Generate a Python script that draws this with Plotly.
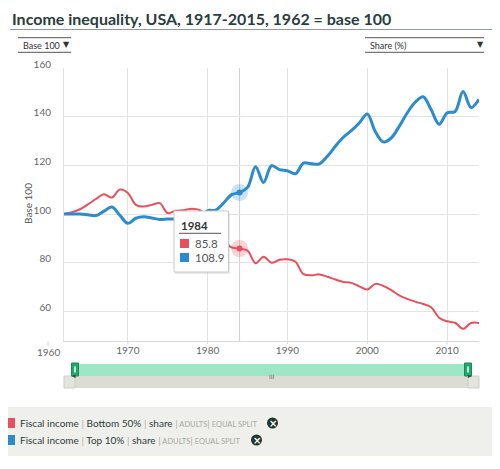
import plotly.graph_objects as go

# ---------------- data ----------------
years = [1962, 1963, 1964, 1965, 1966, 1967, 1968, 1969, 1970, 1971,
         1972, 1973, 1974, 1975, 1976, 1977, 1978, 1979, 1980, 1981,
         1982, 1983, 1984, 1985, 1986, 1987, 1988, 1989, 1990, 1991,
         1992, 1993, 1994, 1995, 1996, 1997, 1998, 1999, 2000, 2001,
         2002, 2003, 2004, 2005, 2006, 2007, 2008, 2009, 2010, 2011,
         2012, 2013, 2014]

bottom50 = [100.0, 100.8, 102.0, 104.0, 106.2, 108.2, 106.8, 110.1, 108.7, 103.8,
            103.1, 103.8, 104.5, 100.4, 101.4, 101.6, 102.2, 101.6, 98.3, 93.0,
            89.0, 86.3, 85.8, 85.0, 79.8, 82.5, 80.0, 81.2, 81.4, 80.4,
            75.3, 74.8, 75.2, 74.2, 73.1, 72.1, 71.7, 70.3, 69.0, 71.3,
            70.5, 68.7, 66.6, 65.1, 64.0, 63.0, 61.7, 57.4, 55.9, 55.3,
            52.8, 55.2, 55.2]

top10 = [100.0, 100.0, 100.0, 99.7, 99.4, 101.2, 102.9, 99.5, 96.2, 98.3,
         98.9, 98.4, 97.8, 98.0, 98.0, 97.6, 97.4, 98.2, 101.4, 101.6,
         104.6, 108.0, 108.9, 111.0, 119.5, 113.0, 119.9, 118.3, 117.8, 116.6,
         121.0, 120.7, 120.7, 123.8, 127.9, 131.6, 134.3, 137.5, 141.2, 134.0,
         129.7, 131.3, 136.1, 141.6, 146.0, 148.3, 143.0, 137.0, 141.6, 142.2,
         150.4, 143.8, 147.2]

x_ticks = [1970, 1980, 1990, 2000, 2010]
y_ticks = [60, 80, 100, 120, 140, 160]
hover_year = 1984

series_names = ["Bottom 50%", "Top 10%"]
title_text = "Income inequality, USA, 1917-2015, 1962 = base 100"

RED = "#e8505d"
BLUE = "#2b8ccd"
DARK = "#2a3d3d"
FONT = "Lato"

# ---------------- geometry helpers (window pixel -> paper) ----------------
# the page body has an 8px margin, so the figure sits at (8, 8) in the window
OFF = 8
WIN_W, WIN_H = 500, 469
W_FIG, H_FIG = WIN_W - OFF, WIN_H - 2 * OFF
L, R, T, B = 64, 479, 68, 341        # plot area in window pixels
PW, PH = R - L, B - T


def px(x):
    return (x - L) / PW


def py(y):
    return (B - y) / PH


XMIN, XMAX = 1962, 2014
YMIN, YMAX = 47.8, 160.1

fig = go.Figure()

fig.add_trace(go.Scatter(x=years, y=bottom50, mode="lines", name=series_names[0],
                         line=dict(color=RED, width=2, shape="spline", smoothing=1.0),
                         hoverinfo="skip"))
fig.add_trace(go.Scatter(x=years, y=top10, mode="lines", name=series_names[1],
                         line=dict(color=BLUE, width=3, shape="spline", smoothing=1.0),
                         hoverinfo="skip"))

hi = years.index(hover_year)
for col, ser in ((RED, bottom50), (BLUE, top10)):
    fig.add_trace(go.Scatter(x=[hover_year], y=[ser[hi]], mode="markers",
                             marker=dict(size=17, color=col, opacity=0.25, line=dict(width=0)),
                             hoverinfo="skip", showlegend=False))
    fig.add_trace(go.Scatter(x=[hover_year], y=[ser[hi]], mode="markers",
                             marker=dict(size=6, color=col, line=dict(width=0)),
                             hoverinfo="skip", showlegend=False))

shapes = []
annotations = []

# crosshair
shapes.append(dict(type="line", xref="x", yref="paper", x0=hover_year, x1=hover_year, y0=0, y1=1,
                   line=dict(color="#d0d0d0", width=1), layer="below"))

# x tick marks below the axis
for tv in x_ticks:
    shapes.append(dict(type="line", xref="x", yref="paper", x0=tv, x1=tv, y0=0, y1=py(B + 3),
                       line=dict(color="#d8d8d8", width=1)))
# 1960 tick outside the plotted range
x1960 = (1960 - XMIN) / (XMAX - XMIN)
shapes.append(dict(type="line", xref="paper", yref="paper", x0=x1960, x1=x1960,
                   y0=py(B), y1=py(B + 5), line=dict(color="#d8d8d8", width=1)))
annotations.append(dict(xref="paper", yref="paper", x=x1960, y=py(352), text="1960",
                        showarrow=False, font=dict(family=FONT, size=10, color="#666"),
                        xanchor="center", yanchor="middle"))

# title and its underline
annotations.append(dict(xref="paper", yref="paper", x=px(10), y=py(19), text="<b>" + title_text + "</b>",
                        showarrow=False, xanchor="left", yanchor="middle",
                        font=dict(family=FONT, size=16, color=DARK)))
shapes.append(dict(type="line", xref="paper", yref="paper", x0=px(10), x1=px(500), y0=py(29.5), y1=py(29.5),
                   line=dict(color="#8e9c9c", width=1.2)))


# dropdowns
def dropdown(x0, x1, label, arrow_x, tx):
    for yy in (37.7, 52.3):
        shapes.append(dict(type="line", xref="paper", yref="paper", x0=px(x0), x1=px(x1), y0=py(yy), y1=py(yy),
                           line=dict(color="#555", width=1)))
    annotations.append(dict(xref="paper", yref="paper", x=px(tx), y=py(45.3), text=label,
                            showarrow=False, xanchor="left", yanchor="middle",
                            font=dict(family=FONT, size=9, color="#333")))
    annotations.append(dict(xref="paper", yref="paper", x=px(arrow_x), y=py(44.5), text="▼",
                            showarrow=False, xanchor="center", yanchor="middle",
                            font=dict(family="DejaVu Sans", size=8, color="#333")))


dropdown(18, 71, "Base 100", 66.5, 20.5)
dropdown(365, 484, "Share (%)", 480, 367.5)

# y axis title
annotations.append(dict(xref="paper", yref="paper", x=px(28), y=py(204), text="Base 100",
                        showarrow=False, textangle=-90, xanchor="center", yanchor="middle",
                        font=dict(family=FONT, size=10, color="#555")))

# tooltip
shapes.append(dict(type="rect", xref="paper", yref="paper", x0=px(175), x1=px(230), y0=py(213), y1=py(274),
                   fillcolor="rgba(0,0,0,0.08)", line=dict(width=0)))
shapes.append(dict(type="rect", xref="paper", yref="paper", x0=px(174), x1=px(228.5), y0=py(211), y1=py(272),
                   fillcolor="white", line=dict(color="#c8c8c8", width=1)))
annotations.append(dict(xref="paper", yref="paper", x=px(179), y=py(225), text="<b>%d</b>" % hover_year,
                        showarrow=False, xanchor="left", yanchor="middle",
                        font=dict(family=FONT, size=11.5, color="#333")))
shapes.append(dict(type="line", xref="paper", yref="paper", x0=px(179), x1=px(221), y0=py(233.3), y1=py(233.3),
                   line=dict(color="#555", width=1)))
for yy, col, ser in ((243.5, RED, bottom50), (257.5, BLUE, top10)):
    shapes.append(dict(type="rect", xref="paper", yref="paper", x0=px(180), x1=px(189), y0=py(yy - 4.5),
                       y1=py(yy + 4.5), fillcolor=col, line=dict(width=0)))
    annotations.append(dict(xref="paper", yref="paper", x=px(193), y=py(yy), text="%.1f" % ser[hi],
                            showarrow=False, xanchor="left", yanchor="middle",
                            font=dict(family=FONT, size=11.5, color="#555")))

# navigator
shapes.append(dict(type="rect", xref="paper", yref="paper", x0=px(72), x1=px(471), y0=py(364), y1=py(376),
                   fillcolor="#9fe6c6", line=dict(width=0)))
shapes.append(dict(type="rect", xref="paper", yref="paper", x0=px(64), x1=px(479), y0=py(376), y1=py(388),
                   fillcolor="#dcdcd5", line=dict(width=0)))
for bx0, bx1 in ((64, 75), (468, 479)):
    shapes.append(dict(type="rect", xref="paper", yref="paper", x0=px(bx0), x1=px(bx1), y0=py(376), y1=py(388),
                       fillcolor="#e4e4de", line=dict(color="#cfcfc8", width=1)))
annotations.append(dict(xref="paper", yref="paper", x=px(69.5), y=py(382), text="◂", showarrow=False,
                        font=dict(family="DejaVu Sans", size=7, color="#444")))
annotations.append(dict(xref="paper", yref="paper", x=px(473.5), y=py(382), text="▸", showarrow=False,
                        font=dict(family="DejaVu Sans", size=7, color="#444")))
annotations.append(dict(xref="paper", yref="paper", x=px(271.5), y=py(382), text="III", showarrow=False,
                        font=dict(family="DejaVu Sans", size=6, color="#666")))
for hx in (75, 468):
    shapes.append(dict(type="rect", xref="paper", yref="paper", x0=px(hx - 3.5), x1=px(hx + 3.5), y0=py(363),
                       y1=py(376), fillcolor="#1faa6c", line=dict(color="#178a57", width=1)))
    shapes.append(dict(type="line", xref="paper", yref="paper", x0=px(hx), x1=px(hx), y0=py(366.5), y1=py(372.5),
                       line=dict(color="white", width=1.5)))

# legend panel
shapes.append(dict(type="rect", xref="paper", yref="paper", x0=px(0), x1=px(500), y0=py(407), y1=py(456),
                   fillcolor="#efefeb", line=dict(width=0), layer="below"))

bar = "<span style='color:#b0b0b0'>|</span>"
small = "<span style='color:#a8a8a8;font-size:7.5px'>"
legend_rows = [(423, RED, series_names[0], 272.5), (440, BLUE, series_names[1], 256.5)]
for yy, col, nm, cx in legend_rows:
    shapes.append(dict(type="rect", xref="paper", yref="paper", x0=px(5), x1=px(15), y0=py(yy - 5),
                       y1=py(yy + 5), fillcolor=col, line=dict(width=0)))
    txt = ("Fiscal income " + bar + " " + nm + " " + bar + " share " + bar +
           small + " ADULTS</span>" + bar + small + " EQUAL SPLIT</span>")
    annotations.append(dict(xref="paper", yref="paper", x=px(18), y=py(yy), text=txt, showarrow=False,
                            xanchor="left", yanchor="middle", font=dict(family=FONT, size=10, color="#2f3d3d")))
    shapes.append(dict(type="circle", xref="paper", yref="paper", x0=px(cx - 5.5), x1=px(cx + 5.5),
                       y0=py(yy - 5.5), y1=py(yy + 5.5), fillcolor="#233434", line=dict(width=0)))
    annotations.append(dict(xref="paper", yref="paper", x=px(cx), y=py(yy), text="<b>×</b>", showarrow=False,
                            xanchor="center", yanchor="middle",
                            font=dict(family="DejaVu Sans", size=10, color="white")))

fig.update_layout(
    width=W_FIG, height=H_FIG,
    margin=dict(l=L - OFF, r=W_FIG - (R - OFF), t=T - OFF, b=H_FIG - (B - OFF), autoexpand=False),
    paper_bgcolor="white", plot_bgcolor="white",
    showlegend=False,
    font=dict(family=FONT, size=10, color="#666"),
    shapes=shapes, annotations=annotations,
    xaxis=dict(range=[XMIN, XMAX], tickvals=x_ticks, showgrid=True, gridcolor="#e3e3e3", gridwidth=1,
               zeroline=False, showline=True, linecolor="#d8d8d8", linewidth=1,
               ticks="", tickfont=dict(family=FONT, size=10, color="#666"), fixedrange=True),
    yaxis=dict(range=[YMIN, YMAX], tickvals=y_ticks, showgrid=True, gridcolor="#e3e3e3", gridwidth=1,
               zeroline=False, showline=True, linecolor="#e3e3e3", linewidth=1,
               ticks="", ticklabelstandoff=10, ticklabelshift=-4,
               tickfont=dict(family=FONT, size=10, color="#666"), fixedrange=True),
)

fig.write_html("out.html")
